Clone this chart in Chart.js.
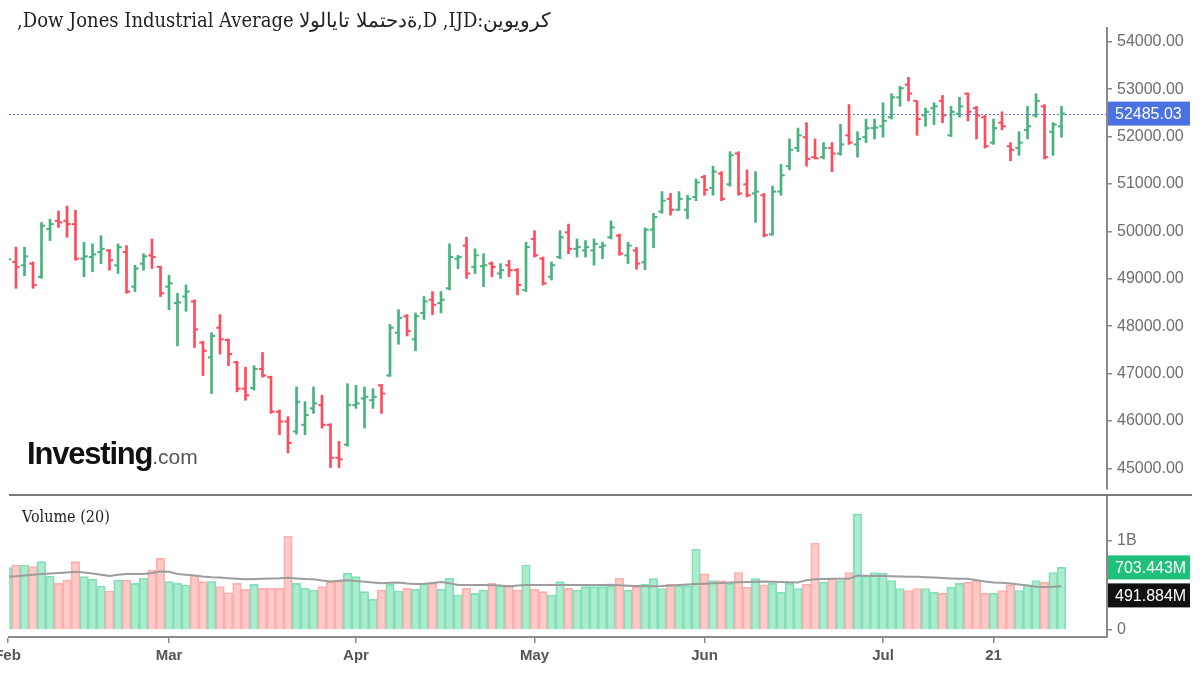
<!DOCTYPE html>
<html>
<head>
<meta charset="utf-8">
<script src="https://cdn.jsdelivr.net/npm/chart.js@4.4.1/dist/chart.umd.min.js"></script>
<style>
  html, body { margin: 0; padding: 0; background: #fff; }
  #wrap { position: relative; width: 1200px; height: 675px; overflow: hidden; }
  canvas { position: absolute; left: 0; }
  #price { top: 0; }
  #vol { top: 495px; }
  .title {
    position: absolute; left: 17px; top: 8px; white-space: nowrap; color: #222;
    font: 20px 'DejaVu Serif Condensed', 'DejaVu Serif', serif; font-stretch: condensed;
    unicode-bidi: bidi-override; direction: ltr;
  }
  .vlabel {
    position: absolute; left: 22px; top: 507px; color: #222;
    font: 16px 'DejaVu Serif Condensed', 'DejaVu Serif', serif; font-stretch: condensed;
  }
  .logo { position: absolute; left: 27px; top: 436px; white-space: nowrap; }
  .logo b { font: bold 31px 'Liberation Sans', Arial, sans-serif; letter-spacing: -1.2px; color: #111; }
  .logo span { font: 21px 'Liberation Sans', Arial, sans-serif; color: #555; }
  .sep { position: absolute; left: 9px; top: 494px; width: 1183px; height: 2px; background: #7a7a7a; }
</style>
</head>
<body>
<div id="wrap">
  <canvas id="price" width="1200" height="495"></canvas>
  <canvas id="vol" width="1200" height="180"></canvas>
  <div class="sep"></div>
  <div class="title">,Dow Jones Industrial Average الولايات المتحدة,D ,IJD:نيويورك</div>
  <div class="vlabel">Volume (20)</div>
  <div class="logo"><b>Investing</b><span>.com</span></div>
</div>
<script>
// daily bars, index 0 = first trading day of Feb
const opens = [49380,49354,49284,49319,49041,50048,50222,50222,50152,49423,49458,49562,49597,49284,49562,48833,49319,49493,49250,48833,
  48486,48625,48521,47652,47340,47965,47708,47236,46680,46694,47097,46923,46194,45986,45778,45917,46264,46333,45917,45222,
  45500,46333,46472,46437,46750,46958,47861,48208,47722,48278,48556,48486,48799,49424,49701,49250,49264,49320,49111,49285,
  49181,48764,49840,49424,49042,49458,49979,49632,49597,49597,49667,49875,49910,49493,49597,49346,50036,50418,50686,50456,
  50456,50724,51145,50916,51222,50992,51643,50992,50801,50762,49936,50839,51375,51758,51987,51566,51566,51758,51643,52026,
  51835,51987,52179,52217,52408,52829,53097,52753,52447,52600,52753,52026,52485,52906,52600,52408,51873,52294,51796,51758,
  52141,52447,52638,52102,52217];
const highs = [49480,49666,49666,49354,50187,50257,50430,50534,50444,49770,49736,49909,49620,49736,49701,49284,49527,49840,49264,49076,
  48694,48868,48555,47680,47861,48243,47730,47257,47132,47167,47444,46945,46229,46090,46715,46403,46715,46541,45940,45569,
  46785,46750,46715,46680,46770,48035,48347,48243,48278,48625,48729,48729,49736,49493,49875,49632,49528,49354,49319,49389,
  49215,49771,50014,49458,49354,50014,50153,49840,49806,49840,49771,50222,49945,49771,49660,50074,50380,50839,50801,50839,
  50762,51107,51184,51375,51260,51681,51681,51298,51260,50801,50954,51413,51949,52179,52294,51949,51873,51873,52256,52676,
  52102,52370,52370,52715,52906,53059,53250,52753,52600,52715,52868,52638,52829,52921,52638,52447,52370,52523,51873,52102,
  52638,52906,52676,52294,52638];
const lows = [49300,48798,49062,48798,49007,49805,50083,49875,49389,49041,49146,49319,49180,49111,48694,48729,49180,49215,48625,48347,
  47583,48312,47548,46958,46576,47409,47166,46611,46437,46650,46923,46159,45708,45326,45720,45708,46159,45847,45014,45014,
  45465,46264,45847,46264,46159,46940,47618,47792,47479,48139,48243,48278,48764,49215,49007,49111,48833,49042,49007,49042,
  48660,48729,49458,48868,48972,49424,49528,49458,49458,49285,49424,49840,49493,49320,49200,49193,49653,50380,50342,50440,
  50265,50648,50762,50762,50648,50954,50762,50724,50189,49882,49920,50762,51298,51681,51375,51528,51528,51260,51605,51835,
  51566,51873,51949,51987,52370,52638,52753,52026,52217,52255,52294,52000,52408,52332,51949,51758,51835,52141,51490,51605,
  51949,52408,51528,51605,51987];
const closes = [49410,49250,49472,48868,50118,50152,50187,50152,49423,49472,49514,49632,49389,49666,48729,49215,49472,49458,48694,48903,
  48500,48729,47930,47479,47791,47722,47409,46680,46541,47097,46958,46194,45986,45535,46403,46125,46368,45917,45222,45187,
  46333,46368,46507,46507,46576,47965,48174,47896,48208,48521,48451,48556,49458,49458,49111,49493,49285,49250,49181,49181,
  48868,49667,49493,48903,49285,49875,49632,49667,49667,49736,49701,50083,49528,49701,49320,50036,50303,50648,50456,50686,
  50686,51031,50877,51260,50686,51605,50801,50762,50839,49920,50839,51184,51720,52026,51528,51543,51758,51643,51835,51873,
  51949,52179,52190,52332,52829,53021,52906,52370,52523,52638,52447,52523,52638,52523,52447,51796,52179,52217,51720,51873,
  52217,52753,51566,52255,52485.03];
// volume in millions and its 20-day average as plotted
const volumes = [700,730,730,712,768,607,524,562,768,599,569,494,438,562,562,524,581,674,805,543,
  524,506,618,543,543,489,419,524,457,513,468,468,468,1056,524,468,449,487,543,543,
  637,599,431,345,449,513,438,468,457,524,524,457,581,393,468,412,449,524,494,506,
  449,730,457,431,393,543,468,449,487,487,487,494,581,449,487,516,577,466,516,495,
  495,907,631,556,556,523,646,482,577,508,523,424,523,466,516,975,538,577,556,646,
  1305,606,646,638,556,466,444,466,466,424,412,482,523,538,556,412,412,444,508,444,
  508,556,538,646,703.443];
const volAvg = [599,603,612,622,629,635,641,647,654,645,636,620,608,620,628,629,629,640,658,655,
  630,622,612,600,592,590,582,575,569,572,575,578,581,588,580,573,569,556,545,552,
  560,550,543,533,525,532,534,522,518,520,528,540,525,506,506,506,506,504,500,490,
  500,506,506,506,506,506,506,506,506,506,506,508,504,498,494,492,492,494,500,506,
  512,517,521,525,529,533,536,540,543,546,543,540,536,533,560,570,574,575,575,575,
  612,610,608,606,603,600,599,597,594,590,585,580,577,575,560,545,535,530,522,510,
  500,486,484,487,491.884];

const tickIdx = [0, 19, 41, 62, 82, 103, 116];
const tickText = ['Feb', 'Mar', 'Apr', 'May', 'Jun', 'Jul', '21'];
const priceTicks = [45000, 46000, 47000, 48000, 49000, 50000, 51000, 52000, 53000, 54000];
const volTicks = [0, 1000];
const volTickText = ['0', '1B'];

const UP = '#48b27f', DOWN = '#ff4b5c';
const VOL_UP = 'rgba(120, 222, 176, 0.62)', VOL_UP_B = '#86e0b8';
const VOL_DN = 'rgba(255, 170, 168, 0.62)', VOL_DN_B = '#ffb1ae';
const AXIS = '#8a8a8a';

Chart.defaults.font.family = "'Liberation Sans', Arial, sans-serif";
Chart.defaults.animation = false;

const isUp = closes.map((c, i) => c >= opens[i]);
const barColors = isUp.map(u => u ? UP : DOWN);
const lastClose = closes[closes.length - 1];
const lastVol = volumes[volumes.length - 1];
const lastAvg = volAvg[volAvg.length - 1];

const X_MIN = 0.176, X_MAX = 129.35;

function fixY(s) { s.width = 93; s.paddingTop = 0; s.paddingBottom = 0; }

function tag(ctx, text, y, bg) {
  ctx.fillStyle = bg;
  ctx.fillRect(1108, y - 12, 82, 24);
  ctx.fillStyle = '#fff';
  ctx.font = "16px 'Liberation Sans', Arial, sans-serif";
  ctx.textBaseline = 'middle';
  ctx.textAlign = 'left';
  ctx.fillText(text, 1115, y + 1);
}

const priceMarker = {
  id: 'priceMarker',
  beforeDatasetsDraw(chart) {
    const { ctx, chartArea, scales: { y } } = chart;
    const py = Math.round(y.getPixelForValue(lastClose)) + 0.5;
    ctx.save();
    ctx.strokeStyle = '#5a7be6';
    ctx.lineWidth = 1;
    ctx.setLineDash([2, 2]);
    ctx.beginPath();
    ctx.moveTo(chartArea.left, py);
    ctx.lineTo(chartArea.right, py);
    ctx.stroke();
    ctx.restore();
  },
  afterDraw(chart) {
    const { ctx, scales: { y } } = chart;
    ctx.save();
    tag(ctx, lastClose.toFixed(2), y.getPixelForValue(lastClose), '#4a72e2');
    ctx.restore();
  }
};

const volMarker = {
  id: 'volMarker',
  afterDraw(chart) {
    const { ctx, scales: { y } } = chart;
    const vy = y.getPixelForValue(lastVol);
    let ay = y.getPixelForValue(lastAvg);
    if (ay - vy < 28) ay = vy + 28;
    ctx.save();
    tag(ctx, lastVol.toFixed(3) + 'M', vy, '#1fc07a');
    tag(ctx, lastAvg.toFixed(3) + 'M', ay, '#111');
    ctx.restore();
  }
};

new Chart(document.getElementById('price'), {
  type: 'bar',
  data: {
    datasets: [
      {
        type: 'bar',
        data: highs.map((h, i) => ({ x: i, y: [lows[i], h] })),
        backgroundColor: barColors,
        barThickness: 2,
        grouped: false,
        clip: 0
      },
      {
        type: 'line',
        showLine: false,
        data: opens.map((o, i) => ({ x: i - 0.218, y: o })),
        pointStyle: 'line',
        pointRadius: 1.85,
        pointBorderWidth: 2,
        pointBorderColor: barColors,
        pointBackgroundColor: barColors,
        clip: 0
      },
      {
        type: 'line',
        showLine: false,
        data: closes.map((c, i) => ({ x: i + 0.218, y: c })),
        pointStyle: 'line',
        pointRadius: 1.85,
        pointBorderWidth: 2,
        pointBorderColor: barColors,
        pointBackgroundColor: barColors,
        clip: 0
      }
    ]
  },
  options: {
    responsive: false,
    layout: { padding: { left: 9, top: 28, right: 0, bottom: 0 } },
    plugins: { legend: { display: false }, tooltip: { enabled: false } },
    scales: {
      x: { type: 'linear', display: false, offset: false, min: X_MIN, max: X_MAX, grid: { offset: false } },
      y: {
        position: 'right',
        min: 44562.5,
        max: 54291.7,
        afterBuildTicks: s => { s.ticks = priceTicks.map(v => ({ value: v })); },
        afterFit: fixY,
        border: { display: true, color: AXIS, width: 2 },
        grid: { drawOnChartArea: false, drawTicks: true, tickLength: 5, color: AXIS, lineWidth: 1.5 },
        ticks: { color: '#6e6e6e', font: { size: 16 }, padding: 5, callback: v => Number(v).toFixed(2) }
      }
    }
  },
  plugins: [priceMarker]
});

new Chart(document.getElementById('vol'), {
  type: 'bar',
  data: {
    datasets: [
      {
        type: 'line',
        data: volAvg.map((v, i) => ({ x: i, y: v })),
        borderColor: '#9c9c9c',
        borderWidth: 2,
        pointRadius: 0,
        tension: 0,
        clip: 0
      },
      {
        type: 'bar',
        data: volumes.map((v, i) => ({ x: i, y: v })),
        backgroundColor: isUp.map(u => u ? VOL_UP : VOL_DN),
        borderColor: isUp.map(u => u ? VOL_UP_B : VOL_DN_B),
        borderWidth: 1,
        categoryPercentage: 1,
        barPercentage: 1,
        grouped: false,
        clip: 0
      }
    ]
  },
  options: {
    responsive: false,
    layout: { padding: { left: 9, top: 0, right: 0, bottom: 0 } },
    plugins: { legend: { display: false }, tooltip: { enabled: false } },
    scales: {
      x: {
        type: 'linear',
        offset: false,
        min: X_MIN,
        max: X_MAX,
        afterBuildTicks: s => { s.ticks = tickIdx.map(v => ({ value: v })); },
        afterFit: s => { s.height = 38; s.paddingLeft = 0; s.paddingRight = 0; },
        border: { display: true, color: AXIS, width: 2 },
        grid: { offset: false, drawOnChartArea: false, drawTicks: true, tickLength: 6, color: AXIS, lineWidth: 1.5 },
        ticks: {
          autoSkip: false,
          maxRotation: 0,
          padding: 4,
          color: '#555',
          font: { size: 15, weight: 'bold' },
          callback: v => tickText[tickIdx.indexOf(v)]
        }
      },
      y: {
        position: 'right',
        min: -78.7,
        max: 1516.9,
        afterBuildTicks: s => { s.ticks = volTicks.map(v => ({ value: v })); },
        afterFit: fixY,
        border: { display: true, color: AXIS, width: 2 },
        grid: { drawOnChartArea: false, drawTicks: true, tickLength: 5, color: AXIS, lineWidth: 1.5 },
        ticks: { color: '#6e6e6e', font: { size: 16 }, padding: 5, callback: v => volTickText[volTicks.indexOf(v)] }
      }
    }
  },
  plugins: [volMarker]
});
</script>
</body>
</html>
